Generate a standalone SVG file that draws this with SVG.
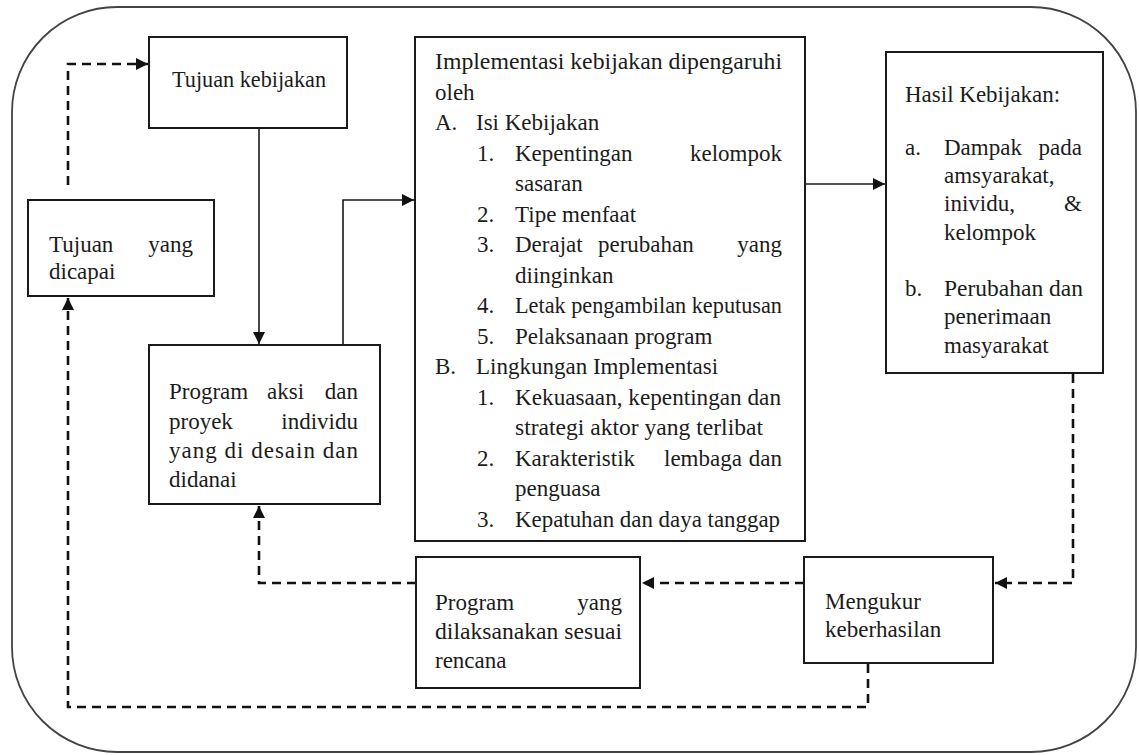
<svg xmlns="http://www.w3.org/2000/svg" width="1139" height="755" viewBox="0 0 1139 755" font-family="'Liberation Serif', 'Times New Roman', 'DejaVu Serif', serif">
<defs>
<marker id="ah" viewBox="0 0 10 10" refX="10" refY="5" markerWidth="14" markerHeight="12" markerUnits="userSpaceOnUse" orient="auto">
<path d="M0,0 L10,5 L0,10 z" fill="#111" stroke="none"/>
</marker>
<style>
.box{fill:#fff;stroke:#1a1a1a;stroke-width:2}
.t{font-family:'Liberation Serif','Times New Roman',serif;font-size:23px;fill:#1c1c1c}
.e{text-anchor:end}
.solid{fill:none;stroke:#1a1a1a;stroke-width:1.6}
.dash{fill:none;stroke:#111;stroke-width:2.6;stroke-dasharray:9 6}
</style>
</defs>
<rect x="0" y="0" width="1139" height="755" fill="#fff"/>
<rect id="frame" x="12" y="7" width="1124" height="745" rx="105" ry="105" fill="none" stroke="#444" stroke-width="1.8"/>

<g id="connectors">
<path class="dash" d="M68,185 L68,64 L148,64" marker-end="url(#ah)"/>
<path class="dash" d="M868,664 L868,707 L68,707 L68,298" marker-end="url(#ah)"/>
<path class="dash" d="M1073,374 L1073,583 L995,583" marker-end="url(#ah)"/>
<path class="dash" d="M804,583 L642,583" marker-end="url(#ah)"/>
<path class="dash" d="M416,583 L259,583 L259,506" marker-end="url(#ah)"/>
<path class="solid" d="M259,129 L259,344" marker-end="url(#ah)"/>
<path class="solid" d="M343,345 L343,200 L414,200" marker-end="url(#ah)"/>
<path class="solid" d="M806,184 L885,184" marker-end="url(#ah)"/>
</g>

<g id="tujuan-kebijakan">
<rect class="box" x="149" y="37" width="198" height="91"/>
<text class="t" x="172" y="87" textLength="154" lengthAdjust="spacingAndGlyphs">Tujuan kebijakan</text>
</g>

<g id="tujuan-dicapai">
<rect class="box" x="28" y="200" width="186" height="96"/>
<text class="t" x="49" y="252">Tujuan</text>
<text class="t e" x="193" y="252">yang</text>
<text class="t" x="49" y="279">dicapai</text>
</g>

<g id="program-aksi">
<rect class="box" x="149" y="345" width="231" height="159"/>
<text class="t" x="169" y="399">Program</text>
<text class="t" x="267" y="399">aksi</text>
<text class="t e" x="358" y="399">dan</text>
<text class="t" x="169" y="429">proyek</text>
<text class="t e" x="358" y="429">individu</text>
<text class="t" x="169" y="458" textLength="189" lengthAdjust="spacing">yang di desain dan</text>
<text class="t" x="169" y="487">didanai</text>
</g>

<g id="implementasi">
<rect class="box" x="415" y="37" width="390" height="504"/>
<text class="t" x="435" y="69" textLength="347" lengthAdjust="spacingAndGlyphs">Implementasi kebijakan dipengaruhi</text>
<text class="t" x="435" y="99.5">oleh</text>
<text class="t" x="435" y="130">A.</text>
<text class="t" x="476" y="130">Isi Kebijakan</text>
<text class="t" x="477" y="160.5">1.</text>
<text class="t" x="515" y="160.5">Kepentingan</text>
<text class="t e" x="782" y="160.5">kelompok</text>
<text class="t" x="515" y="191">sasaran</text>
<text class="t" x="477" y="221.5">2.</text>
<text class="t" x="515" y="221.5">Tipe menfaat</text>
<text class="t" x="477" y="252">3.</text>
<text class="t" x="515" y="252">Derajat</text>
<text class="t" x="598" y="252">perubahan</text>
<text class="t e" x="782" y="252">yang</text>
<text class="t" x="515" y="282.5">diinginkan</text>
<text class="t" x="477" y="313">4.</text>
<text class="t" x="515" y="313" textLength="267" lengthAdjust="spacingAndGlyphs">Letak pengambilan keputusan</text>
<text class="t" x="477" y="343.5">5.</text>
<text class="t" x="515" y="343.5">Pelaksanaan program</text>
<text class="t" x="435" y="374">B.</text>
<text class="t" x="476" y="374">Lingkungan Implementasi</text>
<text class="t" x="477" y="404.5">1.</text>
<text class="t" x="515" y="404.5" textLength="266" lengthAdjust="spacingAndGlyphs">Kekuasaan, kepentingan dan</text>
<text class="t" x="515" y="435" textLength="248" lengthAdjust="spacingAndGlyphs">strategi aktor yang terlibat</text>
<text class="t" x="477" y="465.5">2.</text>
<text class="t" x="515" y="465.5">Karakteristik</text>
<text class="t" x="664" y="465.5">lembaga</text>
<text class="t e" x="782" y="465.5">dan</text>
<text class="t" x="515" y="496">penguasa</text>
<text class="t" x="477" y="526.5">3.</text>
<text class="t" x="515" y="526.5" textLength="265" lengthAdjust="spacingAndGlyphs">Kepatuhan dan daya tanggap</text>
</g>

<g id="hasil-kebijakan">
<rect class="box" x="886" y="52" width="217" height="321"/>
<text class="t" x="905" y="102">Hasil Kebijakan:</text>
<text class="t" x="905" y="155">a.</text>
<text class="t" x="944" y="155">Dampak</text>
<text class="t e" x="1082" y="155">pada</text>
<text class="t" x="944" y="183">amsyarakat,</text>
<text class="t" x="944" y="211">inividu,</text>
<text class="t e" x="1082" y="211">&amp;</text>
<text class="t" x="944" y="240">kelompok</text>
<text class="t" x="905" y="296">b.</text>
<text class="t" x="944" y="296" textLength="139" lengthAdjust="spacingAndGlyphs">Perubahan dan</text>
<text class="t" x="944" y="324">penerimaan</text>
<text class="t" x="944" y="353">masyarakat</text>
</g>

<g id="program-yang">
<rect class="box" x="416" y="557" width="224" height="131"/>
<text class="t" x="435" y="610">Program</text>
<text class="t e" x="622" y="610">yang</text>
<text class="t" x="435" y="639" textLength="187" lengthAdjust="spacingAndGlyphs">dilaksanakan sesuai</text>
<text class="t" x="435" y="668">rencana</text>
</g>

<g id="mengukur">
<rect class="box" x="804" y="557" width="189" height="106"/>
<text class="t" x="825" y="609">Mengukur</text>
<text class="t" x="825" y="637">keberhasilan</text>
</g>
</svg>
